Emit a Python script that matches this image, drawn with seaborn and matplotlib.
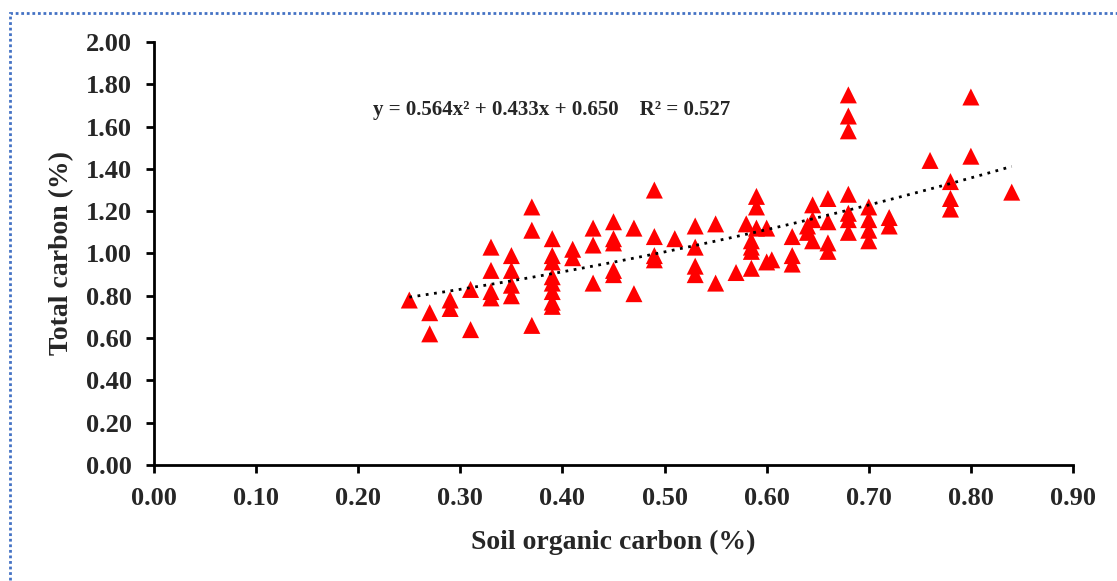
import numpy as np
import pandas as pd
import matplotlib
matplotlib.use("Agg")
import matplotlib.pyplot as plt
import seaborn as sns
from matplotlib.patches import Rectangle

# Soil organic carbon (%) vs total carbon (%)
soc = [0.25, 0.27, 0.27, 0.29, 0.29, 0.31, 0.31,
       0.33, 0.33, 0.33, 0.33, 0.35, 0.35, 0.35, 0.35,
       0.37, 0.37, 0.37, 0.39, 0.39, 0.39, 0.39, 0.39, 0.39, 0.39, 0.39,
       0.41, 0.41, 0.43, 0.43, 0.43, 0.45, 0.45, 0.45, 0.45, 0.45,
       0.47, 0.47, 0.49, 0.49, 0.49, 0.49, 0.51,
       0.53, 0.53, 0.53, 0.53, 0.55, 0.55, 0.57,
       0.58, 0.59, 0.59, 0.59, 0.585, 0.585, 0.585, 0.585,
       0.60, 0.60, 0.605, 0.625, 0.625, 0.625,
       0.645, 0.645, 0.64, 0.64, 0.645,
       0.66, 0.66, 0.66, 0.66,
       0.68, 0.68, 0.68, 0.68, 0.68, 0.68, 0.68,
       0.70, 0.70, 0.70, 0.70, 0.72, 0.72,
       0.76, 0.78, 0.78, 0.78, 0.80, 0.80, 0.84]
tc = [0.78, 0.72, 0.62, 0.78, 0.74, 0.83, 0.64,
      1.03, 0.92, 0.82, 0.79, 0.99, 0.92, 0.85, 0.80,
      1.22, 1.11, 0.66, 1.07, 0.99, 0.96, 0.89, 0.86, 0.82, 0.77, 0.75,
      1.02, 0.98, 1.12, 1.04, 0.86, 1.15, 1.07, 1.05, 0.92, 0.90,
      1.12, 0.81, 1.30, 1.08, 0.99, 0.97, 1.07,
      1.13, 1.03, 0.94, 0.90, 1.14, 0.86, 0.91,
      1.14, 1.27, 1.22, 1.12, 1.06, 1.03, 1.01, 0.93,
      1.12, 0.96, 0.97, 1.08, 0.99, 0.95,
      1.23, 1.16, 1.13, 1.10, 1.06,
      1.26, 1.15, 1.05, 1.01,
      1.75, 1.65, 1.58, 1.28, 1.19, 1.16, 1.10,
      1.22, 1.16, 1.11, 1.06, 1.17, 1.13,
      1.44, 1.34, 1.26, 1.21, 1.74, 1.46, 1.29]

# polynomial trendline as printed on the chart
coef = [0.564, 0.433, 0.650]
r2 = 0.527

xticks = [0.0, 0.1, 0.2, 0.3, 0.4, 0.5, 0.6, 0.7, 0.8, 0.9]
yticks = [0.0, 0.2, 0.4, 0.6, 0.8, 1.0, 1.2, 1.4, 1.6, 1.8, 2.0]

df = pd.DataFrame({"soc": soc, "tc": tc})
xfit = np.linspace(min(soc), max(soc), 100)
fit_df = pd.DataFrame({"soc": xfit, "tc": np.polyval(coef, xfit)})

sns.set_style("white")
plt.rcParams["font.family"] = ["Liberation Serif", "DejaVu Serif"]
plt.rcParams["font.weight"] = "bold"

fig = plt.figure(figsize=(11.17, 5.81), dpi=100)
ax = fig.add_axes([0.1379, 0.1997, 0.8227, 0.7280])

sns.scatterplot(data=df, x="soc", y="tc", marker="^", s=150, color="#FF0000",
                edgecolor="none", linewidth=0, ax=ax, zorder=3)
sns.lineplot(data=fit_df, x="soc", y="tc", color="black", linestyle=(0, (1, 2)),
             linewidth=2, ax=ax, zorder=4)

ax.set_xlim(0, 0.9)
ax.set_ylim(0, 2.0)
ax.set_xticks(xticks)
ax.set_yticks(yticks)
ax.set_xticklabels([f"{v:.2f}" for v in xticks], fontsize=19, fontweight="bold")
ax.set_yticklabels([f"{v:.2f}" for v in yticks], fontsize=19, fontweight="bold")
ax.set_xlabel("Soil organic carbon (%)", fontsize=20, fontweight="bold", labelpad=14)
ax.set_ylabel("Total carbon (%)", fontsize=20, fontweight="bold", labelpad=8)

for side in ["top", "right"]:
    ax.spines[side].set_visible(False)
for side in ["left", "bottom"]:
    ax.spines[side].set_color("black")
    ax.spines[side].set_linewidth(2)
ax.tick_params(axis="both", direction="out", length=6, width=2, color="black",
               bottom=True, left=True)
ax.tick_params(axis="x", pad=10)
ax.tick_params(axis="y", pad=10)

eq = f"y = {coef[0]:.3f}x² + {coef[1]:.3f}x + {coef[2]:.3f}    R² = {r2:.3f}"
ax.text(0.2146, 1.678, eq, fontsize=15, fontweight="bold", ha="left", va="center")

# dotted blue frame around the chart area
fig.patches.append(Rectangle((10 / 1117, -0.05), 1.2, 1 - 13 / 581 + 0.05,
                             transform=fig.transFigure, fill=False,
                             edgecolor="#4472C4", linestyle=(0, (1, 1)),
                             linewidth=2))

fig.savefig("out.png", dpi=100)
